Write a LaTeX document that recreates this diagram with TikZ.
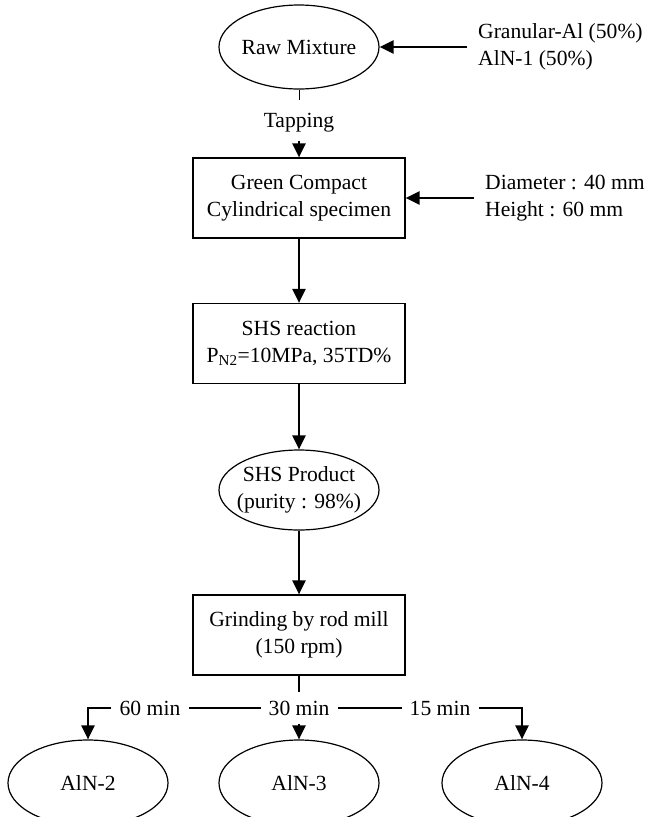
\documentclass[tikz,border=0pt]{standalone}
\usepackage{fontspec}
\setmainfont{Liberation Serif}
\usetikzlibrary{arrows.meta,shapes.geometric}
\begin{document}
\begin{tikzpicture}[x=1pt,y=-1pt,
 every node/.style={font=\fontsize{21.6}{27}\selectfont},
 ell/.style={draw, ellipse, line width=1.2pt, minimum width=160pt, minimum height=84pt, inner xsep=-10pt, inner ysep=0pt, align=center},
 box/.style={draw, rectangle, line width=1.2pt, minimum width=212pt, minimum height=80pt, align=center, inner sep=0pt},
 arr/.style={line width=2.4pt, -{Triangle[length=14pt,width=13pt]}},
 conn/.style={line width=1.8pt},
 note/.style={align=left, anchor=west, inner xsep=11pt, inner ysep=0pt},
 lab/.style={inner xsep=8pt, inner ysep=9pt}]
\clip (0,0) rectangle (649,817);
\node[ell] (raw) at (299,47) {Raw Mixture};
\node[note] (mix) at (467,47) {Granular-Al (50\%)\\AlN-1 (50\%)};
\node[inner ysep=8pt] (tap) at (299,123) {Tapping};
\node[box] (green) at (299,198) {Green Compact\\Cylindrical specimen};
\node[note] (dim) at (474,198) {Diameter : 40 mm\\Height : 60 mm};
\node[box] (shs) at (299,343.5) {SHS reaction\\P\textsubscript{N2}=10MPa, 35TD\%};
\node[ell, minimum height=80pt] (prod) at (299,490) {SHS Product\\(purity : 98\%)};
\node[box] (grind) at (299,635) {Grinding by rod mill\\(150 rpm)};
\node[lab] (t30) at (299,708) {30 min};
\node[lab] (t60) at (150,708) {60 min};
\node[lab] (t15) at (440,708) {15 min};
\node[ell, minimum height=86pt] (a2) at (88,783) {AlN-2};
\node[ell, minimum height=86pt] (a3) at (299,783) {AlN-3};
\node[ell, minimum height=86pt] (a4) at (522,783) {AlN-4};
\draw[arr] (mix.west) -- (raw.east);
\draw[line width=1pt, shorten >=5pt] (raw.south) -- (tap.north);
\draw[arr] (tap.south) -- (green.north);
\draw[arr] (dim.west) -- (green.east);
\draw[arr] (green) -- (shs);
\draw[arr] (shs) -- (prod);
\draw[arr] (prod) -- (grind);
\draw[conn] (grind) -- (t30);
\draw[arr] (t30) -- (a3);
\draw[conn] (t30) -- (t60);
\draw[conn] (t30) -- (t15);
\draw[arr] (t60.west) -| (a2.north);
\draw[arr] (t15.east) -| (a4.north);
\end{tikzpicture}
\end{document}
